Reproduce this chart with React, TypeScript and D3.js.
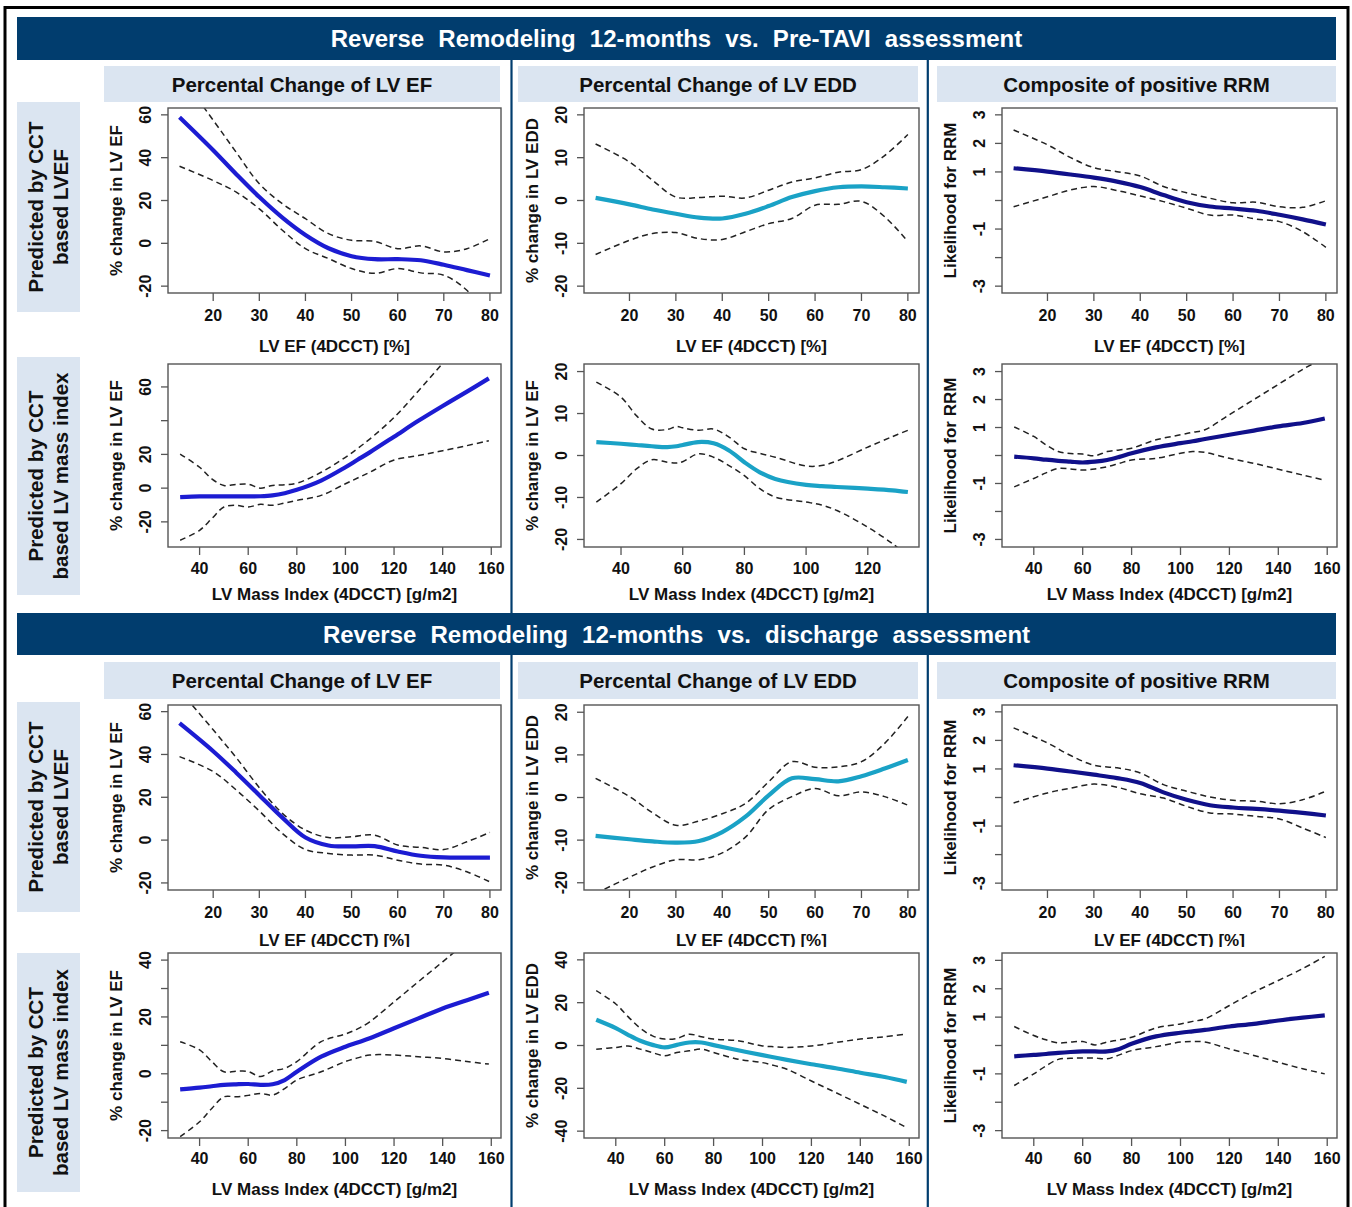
import React from 'react';
import * as d3 from 'd3';

// ---------- x grids ----------
const efGrid = [12.7, 20, 25, 30, 35, 40, 45, 50, 55, 60, 65, 70, 75, 80];
const massGrid = [32, 40, 45, 50, 55, 60, 65, 70, 75, 80, 90, 100, 105, 110, 120, 130, 140, 150, 159];
const massGridShort = [32, 40, 45, 50, 55, 58, 60, 65, 70, 75, 80, 85, 90, 100, 105, 110, 120, 128, 133];

// ---------- Pre-TAVI, predictor LVEF ----------
const preEfEfFit = [58.9, 43.5, 32.3, 21.6, 12.0, 3.9, -2.3, -6.0, -7.4, -7.4, -7.9, -10.0, -12.5, -15.0];
const preEfEfUp = [79, 57.5, 42.5, 27.8, 18.5, 11.5, 4.5, 1.4, 0.9, -2.5, -1.2, -4.0, -2.5, 2.2];
const preEfEfLo = [36, 29.3, 23.9, 16.1, 6.1, -2.5, -7.1, -11.8, -14.0, -11.8, -13.8, -14.9, -21.9, -35];

const preEfEddFit = [0.6, -0.9, -2.1, -3.1, -4.0, -4.2, -3.1, -1.3, 0.8, 2.2, 3.1, 3.3, 3.1, 2.8];
const preEfEddUp = [13.2, 9.0, 4.7, 0.8, 0.7, 1.0, 0.6, 2.4, 4.3, 5.3, 6.6, 7.2, 10.5, 15.4];
const preEfEddLo = [-12.6, -9.3, -7.7, -7.5, -8.9, -9.1, -7.3, -5.4, -4.2, -1.1, -0.9, -0.2, -3.8, -9.6];

const preEfRrmFit = [1.13, 1.01, 0.91, 0.80, 0.66, 0.47, 0.19, -0.06, -0.21, -0.28, -0.36, -0.50, -0.66, -0.84];
const preEfRrmUp = [2.47, 1.95, 1.50, 1.15, 1.01, 0.86, 0.49, 0.27, 0.08, -0.08, -0.06, -0.22, -0.24, -0.01];
const preEfRrmLo = [-0.22, 0.13, 0.37, 0.49, 0.35, 0.16, -0.04, -0.27, -0.51, -0.51, -0.65, -0.74, -1.09, -1.64];

// ---------- Pre-TAVI, predictor LV mass index ----------
const preMassEfFit = [-5.3, -4.9, -4.9, -4.9, -4.9, -4.9, -4.8, -4.3, -3.0, -1.0, 4.5, 12.4, 16.8, 21.2, 30.5, 39.9, 48.7, 57.2, 65.1];
const preMassEfUp = [20.2, 12.4, 5.5, 1.6, 2.2, 2.3, 0.0, 1.6, 2.0, 2.9, 9.4, 18.3, 23.5, 29.1, 41.9, 57.6, 74, 91, 107];
const preMassEfLo = [-30.9, -25, -18.1, -11.2, -10.2, -11.2, -9.6, -10.2, -8.8, -7.3, -4.3, 2.6, 6.0, 9.4, 16.7, 19.3, 22.2, 25.2, 28.1];

const preMassEddFit = [3.2, 2.8, 2.5, 2.2, 2.0, 2.2, 2.5, 3.2, 2.9, 1.2, -1.6, -4.0, -5.6, -7.0, -7.3, -7.5, -7.9, -8.3, -8.7];
const preMassEddUp = [17.5, 13.9, 9.5, 6.3, 6.2, 6.9, 6.6, 6.0, 6.3, 4.4, 1.6, 0.5, -0.4, -2.5, -2.4, -1.3, 2.0, 4.5, 6.0];
const preMassEddLo = [-11.1, -6.7, -3.2, -1.0, -1.6, -1.8, -1.5, 0.4, -0.4, -2.4, -4.8, -7.9, -9.9, -11.1, -11.8, -13.1, -17.1, -21.0, -24.0];

const preMassRrmFit = [-0.04, -0.10, -0.15, -0.19, -0.22, -0.25, -0.22, -0.16, -0.05, 0.08, 0.29, 0.44, 0.51, 0.59, 0.74, 0.89, 1.04, 1.16, 1.32];
const preMassRrmUp = [1.02, 0.68, 0.38, 0.14, 0.07, 0.05, -0.01, 0.14, 0.20, 0.26, 0.56, 0.74, 0.83, 0.92, 1.46, 2.0, 2.54, 3.08, 3.5];
const preMassRrmLo = [-1.12, -0.82, -0.62, -0.46, -0.48, -0.52, -0.48, -0.40, -0.28, -0.16, -0.10, 0.08, 0.14, 0.11, -0.10, -0.28, -0.49, -0.70, -0.88];

// ---------- Discharge, predictor LVEF ----------
const disEfEfFit = [54.6, 41.5, 31.5, 21.0, 10.5, 1.2, -2.5, -2.9, -2.8, -5.3, -7.3, -8.1, -8.2, -8.2];
const disEfEfUp = [70, 51.5, 38.5, 24.5, 12.5, 4.7, 1.2, 1.6, 2.3, -2.3, -3.4, -4.4, -0.8, 3.6];
const disEfEfLo = [39.0, 32.0, 23.4, 13.6, 3.1, -4.4, -6.2, -7.0, -7.0, -9.4, -11.2, -11.7, -14.8, -19.5];

const disEfEddFit = [-9.0, -9.8, -10.3, -10.6, -10.2, -8.1, -4.5, 0.5, 4.5, 4.3, 3.8, 5.0, 6.8, 8.8];
const disEfEddUp = [4.5, 0.2, -3.6, -6.5, -5.5, -3.8, -1.4, 3.7, 8.4, 7.1, 7.2, 8.4, 12.7, 19.0];
const disEfEddLo = [-22.5, -18.7, -16.3, -14.6, -14.6, -13.0, -9.3, -2.8, 0.2, 2.1, 0.4, 1.3, 0.2, -1.8];

const disEfRrmFit = [1.13, 1.01, 0.91, 0.80, 0.68, 0.51, 0.18, -0.08, -0.27, -0.35, -0.40, -0.46, -0.54, -0.63];
const disEfRrmUp = [2.44, 1.91, 1.47, 1.13, 1.04, 0.86, 0.45, 0.22, 0.02, -0.10, -0.13, -0.22, -0.08, 0.22];
const disEfRrmLo = [-0.19, 0.16, 0.33, 0.47, 0.36, 0.13, -0.02, -0.31, -0.54, -0.58, -0.66, -0.75, -1.07, -1.40];

// ---------- Discharge, predictor LV mass index ----------
const disMassEfFit = [-5.5, -4.9, -4.4, -3.9, -3.7, -3.6, -3.9, -3.7, -2.2, 0.7, 6.0, 9.5, 11.0, 12.5, 16.0, 19.5, 23.0, 25.9, 28.5];
const disMassEfUp = [11.3, 8.4, 4.3, 0.7, 0.9, 0.8, -1.0, 1.0, 1.9, 4.3, 11.3, 14.0, 15.8, 18.3, 25.3, 32.4, 39.4, 46.5, 53];
const disMassEfLo = [-22.1, -16.9, -12.2, -8.1, -8.1, -7.6, -6.9, -7.5, -5.2, -2.2, 0.7, 4.3, 5.6, 6.6, 6.6, 6.0, 5.4, 4.3, 3.4];

const disMassEddFit = [12.0, 8.1, 5.0, 2.2, 0.3, -0.9, 0.3, 1.4, 1.4, 0.2, -2.2, -4.5, -5.6, -6.7, -8.75, -10.6, -12.7, -14.7, -17.0];
const disMassEddUp = [25.6, 19.4, 13.5, 8.1, 4.5, 3.0, 3.3, 5.3, 4.1, 3.0, 2.2, -0.2, -0.6, -0.9, -0.2, 1.4, 3.0, 4.1, 5.3];
const disMassEddLo = [-1.7, -0.9, -0.2, -1.7, -3.3, -4.8, -3.3, -2.5, -1.7, -3.3, -6.4, -8.0, -9.4, -11.1, -16.6, -22.0, -27.5, -33.0, -38.4];

const disMassRrmFit = [-0.38, -0.33, -0.30, -0.26, -0.23, -0.21, -0.21, -0.21, -0.12, 0.06, 0.32, 0.45, 0.50, 0.55, 0.67, 0.76, 0.88, 0.98, 1.06];
const disMassRrmUp = [0.67, 0.35, 0.20, 0.09, 0.12, 0.14, 0.02, 0.12, 0.20, 0.29, 0.62, 0.76, 0.85, 0.94, 1.41, 1.88, 2.29, 2.71, 3.14];
const disMassRrmLo = [-1.41, -1.0, -0.72, -0.49, -0.45, -0.44, -0.44, -0.47, -0.33, -0.18, -0.04, 0.12, 0.14, 0.12, -0.12, -0.35, -0.59, -0.82, -1.0];

// ---------- axes ----------
const efTicks = [20, 30, 40, 50, 60, 70, 80];
const massTicks = [40, 60, 80, 100, 120, 140, 160];
const massTicksShort = [40, 60, 80, 100, 120];
const efDomain = [10.2, 82.4];
const massDomain = [27, 164];
const massDomainShort = [28, 136.6];

const headerTitles = [
  'Reverse Remodeling 12-months vs. Pre-TAVI assessment',
  'Reverse Remodeling 12-months vs. discharge assessment',
];
const columnTitles = ['Percental Change of LV EF', 'Percental Change of LV EDD', 'Composite of positive RRM'];
const rowLabels = [
  ['Predicted by CCT', 'based LVEF'],
  ['Predicted by CCT', 'based LV mass index'],
  ['Predicted by CCT', 'based LVEF'],
  ['Predicted by CCT', 'based LV mass index'],
];
const xTitleEf = 'LV EF (4DCCT) [%]';
const xTitleMass = 'LV Mass Index (4DCCT) [g/m2]';

const COL_COLORS = ['#1c1cd2', '#1aa2c6', '#10108a'];
const FONT = '"Liberation Sans", Arial, sans-serif';

type Panel = {
  row: number; col: number; x: number[]; fit: number[]; up: number[]; lo: number[];
  xDomain: number[]; xTicks: number[]; yDomain: number[]; yTicks: number[]; yLabels: number[];
  xTitle: string; yTitle: string;
};

const panels: Panel[] = [
  { row: 0, col: 0, x: efGrid, fit: preEfEfFit, up: preEfEfUp, lo: preEfEfLo, xDomain: efDomain, xTicks: efTicks,
    yDomain: [-23.2, 63.2], yTicks: [-20, 0, 20, 40, 60], yLabels: [-20, 0, 20, 40, 60], xTitle: xTitleEf, yTitle: '% change in LV EF' },
  { row: 0, col: 1, x: efGrid, fit: preEfEddFit, up: preEfEddUp, lo: preEfEddLo, xDomain: efDomain, xTicks: efTicks,
    yDomain: [-21.6, 21.6], yTicks: [-20, -10, 0, 10, 20], yLabels: [-20, -10, 0, 10, 20], xTitle: xTitleEf, yTitle: '% change in LV EDD' },
  { row: 0, col: 2, x: efGrid, fit: preEfRrmFit, up: preEfRrmUp, lo: preEfRrmLo, xDomain: efDomain, xTicks: efTicks,
    yDomain: [-3.24, 3.24], yTicks: [-3, -2, -1, 0, 1, 2, 3], yLabels: [-3, -1, 1, 2, 3], xTitle: xTitleEf, yTitle: 'Likelihood for RRM' },
  { row: 1, col: 0, x: massGrid, fit: preMassEfFit, up: preMassEfUp, lo: preMassEfLo, xDomain: massDomain, xTicks: massTicks,
    yDomain: [-34.9, 73.6], yTicks: [-20, 0, 20, 40, 60], yLabels: [-20, 0, 20, 60], xTitle: xTitleMass, yTitle: '% change in LV EF' },
  { row: 1, col: 1, x: massGridShort, fit: preMassEddFit, up: preMassEddUp, lo: preMassEddLo, xDomain: massDomainShort, xTicks: massTicksShort,
    yDomain: [-21.8, 21.8], yTicks: [-20, -10, 0, 10, 20], yLabels: [-20, -10, 0, 10, 20], xTitle: xTitleMass, yTitle: '% change in LV EF' },
  { row: 1, col: 2, x: massGrid, fit: preMassRrmFit, up: preMassRrmUp, lo: preMassRrmLo, xDomain: massDomain, xTicks: massTicks,
    yDomain: [-3.27, 3.27], yTicks: [-3, -2, -1, 0, 1, 2, 3], yLabels: [-3, -1, 1, 2, 3], xTitle: xTitleMass, yTitle: 'Likelihood for RRM' },
  { row: 2, col: 0, x: efGrid, fit: disEfEfFit, up: disEfEfUp, lo: disEfEfLo, xDomain: efDomain, xTicks: efTicks,
    yDomain: [-23.3, 63.1], yTicks: [-20, 0, 20, 40, 60], yLabels: [-20, 0, 20, 40, 60], xTitle: xTitleEf, yTitle: '% change in LV EF' },
  { row: 2, col: 1, x: efGrid, fit: disEfEddFit, up: disEfEddUp, lo: disEfEddLo, xDomain: efDomain, xTicks: efTicks,
    yDomain: [-21.7, 21.7], yTicks: [-20, -10, 0, 10, 20], yLabels: [-20, -10, 0, 10, 20], xTitle: xTitleEf, yTitle: '% change in LV EDD' },
  { row: 2, col: 2, x: efGrid, fit: disEfRrmFit, up: disEfRrmUp, lo: disEfRrmLo, xDomain: efDomain, xTicks: efTicks,
    yDomain: [-3.24, 3.24], yTicks: [-3, -2, -1, 0, 1, 2, 3], yLabels: [-3, -1, 1, 2, 3], xTitle: xTitleEf, yTitle: 'Likelihood for RRM' },
  { row: 3, col: 0, x: massGrid, fit: disMassEfFit, up: disMassEfUp, lo: disMassEfLo, xDomain: massDomain, xTicks: massTicks,
    yDomain: [-22.6, 42.5], yTicks: [-20, -10, 0, 10, 20, 30, 40], yLabels: [-20, 0, 20, 40], xTitle: xTitleMass, yTitle: '% change in LV EF' },
  { row: 3, col: 1, x: massGrid, fit: disMassEddFit, up: disMassEddUp, lo: disMassEddLo, xDomain: massDomain, xTicks: massTicks,
    yDomain: [-43.2, 43.2], yTicks: [-40, -20, 0, 20, 40], yLabels: [-40, -20, 0, 20, 40], xTitle: xTitleMass, yTitle: '% change in LV EDD' },
  { row: 3, col: 2, x: massGrid, fit: disMassRrmFit, up: disMassRrmUp, lo: disMassRrmLo, xDomain: massDomain, xTicks: massTicks,
    yDomain: [-3.26, 3.26], yTicks: [-3, -2, -1, 0, 1, 2, 3], yLabels: [-3, -1, 1, 2, 3], xTitle: xTitleMass, yTitle: 'Likelihood for RRM' },
];

// ---------- layout ----------
const COLS = [{ x0: 168, x1: 501 }, { x0: 584, x1: 919 }, { x0: 1002, x1: 1337 }];
const ROWS = [
  { y0: 108, y1: 293, tickOff: 28, titleOff: 58.5, label: [102, 312] },
  { y0: 364, y1: 547, tickOff: 27, titleOff: 52.5, label: [357, 595] },
  { y0: 705, y1: 890, tickOff: 28, titleOff: 56, label: [702, 912] },
  { y0: 953, y1: 1138, tickOff: 26, titleOff: 57, label: [953, 1192] },
];
const SUB_COLS = [[104, 500], [518, 918], [937, 1336]];
const SUB_ROWS = [[66, 102], [662, 699]];
const HEADERS = [[17, 60], [613, 655]];
const NAVY = '#013d6e';
const PALE = '#dbe5f1';

function PanelView({ p, idx }: { p: Panel; idx: number }) {
  const c = COLS[p.col];
  const r = ROWS[p.row];
  const xs = d3.scaleLinear().domain(p.xDomain).range([c.x0, c.x1]);
  const ys = d3.scaleLinear().domain(p.yDomain).range([r.y1, r.y0]);
  const line = d3.line<number>()
    .x((_, i) => xs(p.x[i]))
    .y((d) => ys(d))
    .curve(d3.curveCatmullRom.alpha(0.5));
  const clipId = `clip${idx}`;
  const titleClip = p.row === 2 ? 'url(#titleclip)' : undefined;
  const cy = (r.y0 + r.y1) / 2;
  return (
    <g>
      <defs>
        <clipPath id={clipId}>
          <rect x={c.x0} y={r.y0} width={c.x1 - c.x0} height={r.y1 - r.y0} />
        </clipPath>
      </defs>
      <g clipPath={`url(#${clipId})`}>
        <path d={line(p.up) || ''} fill="none" stroke="#222" strokeWidth={1.5} strokeDasharray="6,4" />
        <path d={line(p.lo) || ''} fill="none" stroke="#222" strokeWidth={1.5} strokeDasharray="6,4" />
        <path d={line(p.fit) || ''} fill="none" stroke={COL_COLORS[p.col]} strokeWidth={4.2} />
      </g>
      <rect x={c.x0} y={r.y0} width={c.x1 - c.x0} height={r.y1 - r.y0} fill="none" stroke="#555" strokeWidth={1.4} />
      {p.xTicks.map((t) => (
        <g key={`xt${t}`}>
          <line x1={xs(t)} x2={xs(t)} y1={r.y1} y2={r.y1 + 8} stroke="#555" strokeWidth={1.3} />
          <text x={xs(t)} y={r.y1 + r.tickOff} textAnchor="middle" fontSize={16} fontWeight="bold" fontFamily={FONT} fill="#111">{t}</text>
        </g>
      ))}
      {p.yTicks.map((t) => (
        <line key={`yt${t}`} x1={c.x0 - 7} x2={c.x0} y1={ys(t)} y2={ys(t)} stroke="#555" strokeWidth={1.3} />
      ))}
      {p.yLabels.map((t) => (
        <text key={`yl${t}`} transform={`translate(${c.x0 - 17},${ys(t)}) rotate(-90)`} textAnchor="middle"
          fontSize={16} fontWeight="bold" fontFamily={FONT} fill="#111">{t}</text>
      ))}
      <text transform={`translate(${c.x0 - 46},${cy}) rotate(-90)`} textAnchor="middle" fontSize={17} fontWeight="bold" fontFamily={FONT} fill="#111">{p.yTitle}</text>
      <g clipPath={titleClip}>
        <text x={(c.x0 + c.x1) / 2} y={r.y1 + r.titleOff} textAnchor="middle" fontSize={17} fontWeight="bold" fontFamily={FONT} fill="#111">{p.xTitle}</text>
      </g>
    </g>
  );
}

export default function App() {
  return (
    <svg width={1352} height={1207} style={{ position: 'absolute', left: 0, top: 0, background: '#fff' }}>
      <defs>
        <clipPath id="titleclip">
          <rect x={0} y={900} width={1352} height={47} />
        </clipPath>
      </defs>
      <rect x={0} y={0} width={1352} height={1207} fill="#fff" />
      {/* outer frame */}
      <rect x={5} y={7.5} width={1343} height={1205} fill="none" stroke="#000" strokeWidth={3} />
      {/* headers */}
      {HEADERS.map((h, i) => (
        <g key={`h${i}`}>
          <rect x={17} y={h[0]} width={1319} height={h[1] - h[0]} fill={NAVY} />
          <text x={676.5} y={(h[0] + h[1]) / 2 + 8.5} textAnchor="middle" fill="#fff" fontSize={24} fontWeight="bold" fontFamily={FONT} wordSpacing={7.5}>{headerTitles[i]}</text>
        </g>
      ))}
      {/* vertical dividers */}
      {[511.5, 927.8].map((x) => (
        <g key={`v${x}`}>
          <line x1={x} x2={x} y1={HEADERS[0][1]} y2={HEADERS[1][0]} stroke={NAVY} strokeWidth={2.2} />
          <line x1={x} x2={x} y1={HEADERS[1][1]} y2={1207} stroke={NAVY} strokeWidth={2.2} />
        </g>
      ))}
      {/* column title boxes */}
      {SUB_ROWS.map((sr, ri) =>
        SUB_COLS.map((sc, ci) => (
          <g key={`s${ri}${ci}`}>
            <rect x={sc[0]} y={sr[0]} width={sc[1] - sc[0]} height={sr[1] - sr[0]} fill={PALE} />
            <text x={(sc[0] + sc[1]) / 2} y={(sr[0] + sr[1]) / 2 + 7.5} textAnchor="middle" fontSize={20.5} fontWeight="bold" fontFamily={FONT} fill="#111">{columnTitles[ci]}</text>
          </g>
        ))
      )}
      {/* row labels */}
      {ROWS.map((r, i) => {
        const cy = (r.label[0] + r.label[1]) / 2;
        return (
          <g key={`rl${i}`}>
            <rect x={17} y={r.label[0]} width={63} height={r.label[1] - r.label[0]} fill={PALE} />
            <text transform={`translate(43,${cy}) rotate(-90)`} textAnchor="middle" fontSize={20.5} fontWeight="bold" fontFamily={FONT} fill="#111">{rowLabels[i][0]}</text>
            <text transform={`translate(68,${cy}) rotate(-90)`} textAnchor="middle" fontSize={20.5} fontWeight="bold" fontFamily={FONT} fill="#111">{rowLabels[i][1]}</text>
          </g>
        );
      })}
      {panels.map((p, i) => <PanelView key={i} p={p} idx={i} />)}
    </svg>
  );
}
